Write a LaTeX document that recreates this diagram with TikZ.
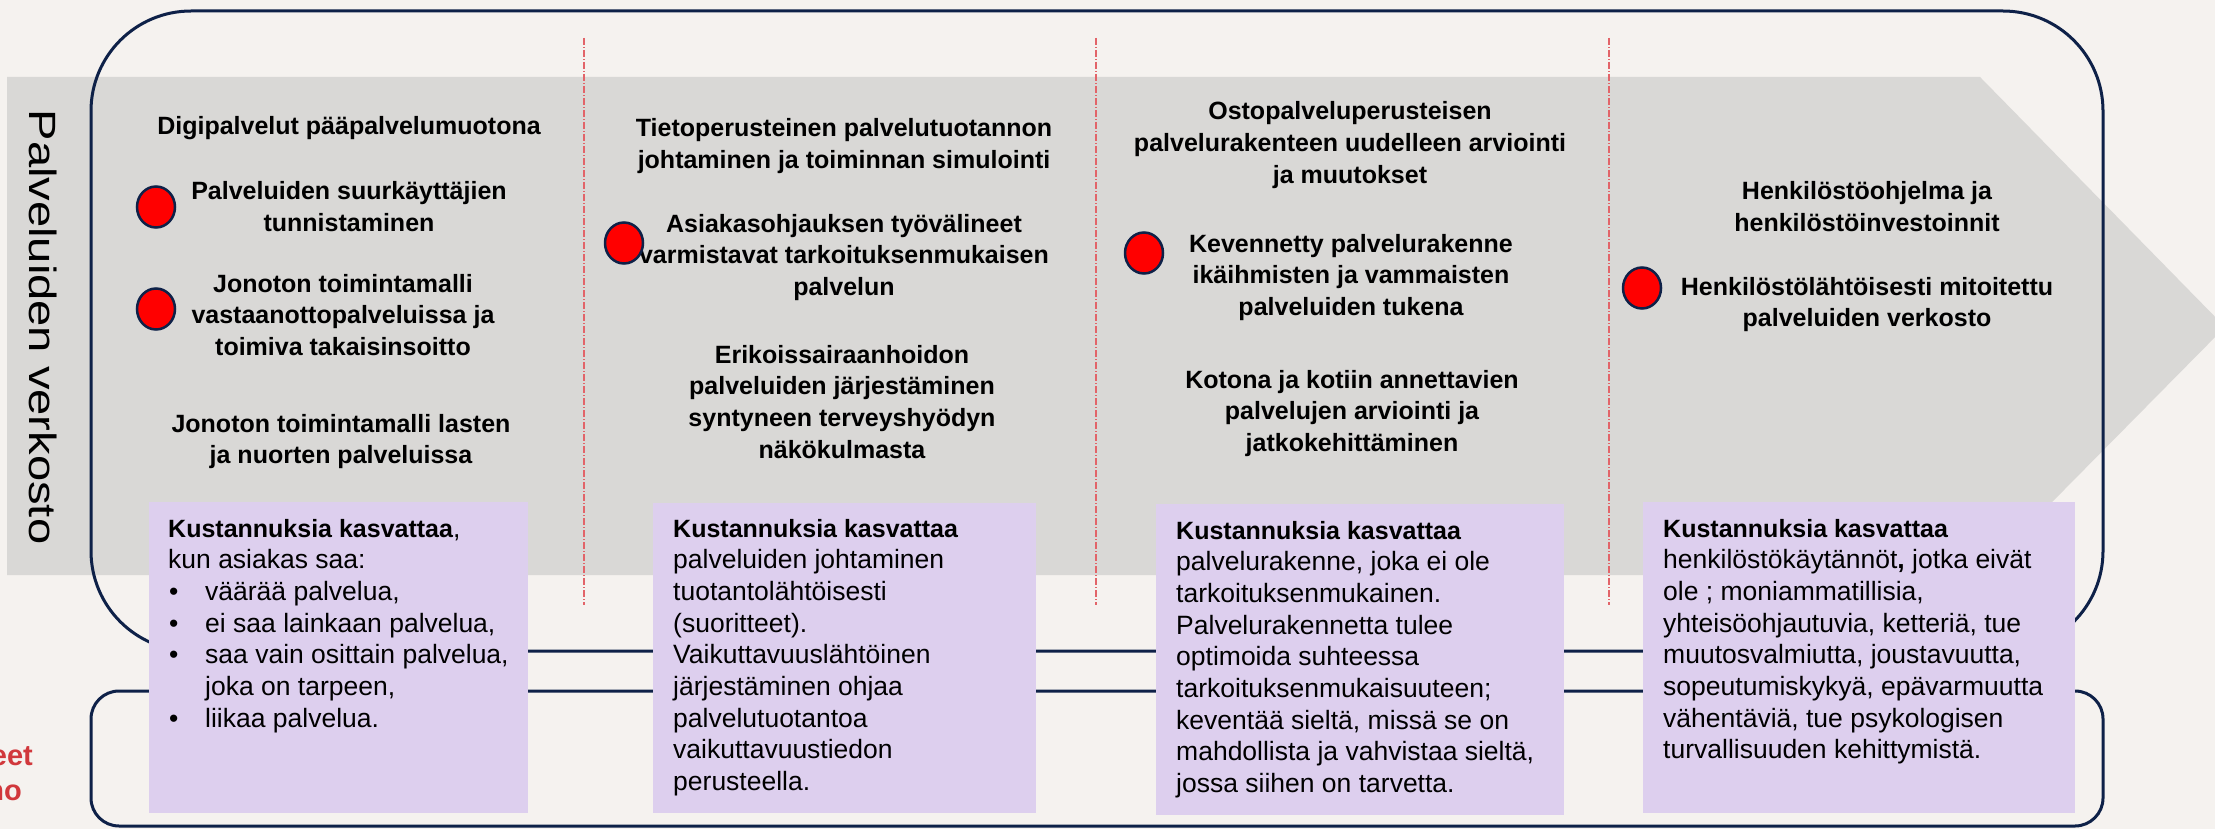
\documentclass[tikz,border=0pt]{standalone}
\usepackage{fontspec}
\setmainfont{Liberation Sans}
\newfontfamily\widefont[FakeStretch=1.24]{Liberation Sans}
\usetikzlibrary{shapes.geometric}
\definecolor{bgc}{RGB}{245,242,239}
\definecolor{bandc}{RGB}{217,216,214}
\definecolor{navyc}{RGB}{14,33,72}
\definecolor{lilac}{RGB}{221,207,238}
\definecolor{divc}{RGB}{226,100,105}
\definecolor{redtxt}{RGB}{209,56,60}
\newcommand{\ctxt}[1]{\parbox[t]{560pt}{\centering #1}}
\newcommand{\ltxt}[1]{\parbox[t]{440pt}{\raggedright\fontsize{26.5}{31.7}\selectfont #1}}
\newcommand{\bhead}[1]{{\bfseries\fontsize{25}{31.7}\selectfont #1}}
\newcommand{\bulitem}{\makebox[37pt][l]{\hspace*{1pt}•}}
\begin{document}
\begin{tikzpicture}[x=1pt,y=-1pt,
  bt/.style={anchor=base, inner sep=0pt, font=\bfseries\fontsize{25}{31.7}\selectfont},
  lt/.style={anchor=base west, inner sep=0pt},
  pbox/.style={anchor=north west, fill=lilac, draw=none, inner sep=0pt},
  dot/.style={ellipse, fill=red, draw=navyc, line width=2.5pt, minimum width=38pt, minimum height=41pt, inner sep=0pt},
  frame/.style={draw=navyc, line width=3pt},
  redlab/.style={anchor=base east, inner sep=0pt, text=redtxt, font=\bfseries\fontsize{29}{35}\selectfont},
  divline/.style={draw=divc, line width=1.2pt, dash pattern=on 7pt off 2pt on 1pt off 2pt}]
\useasboundingbox (0,0) rectangle (2215,829);
\fill[bgc] (0,0) rectangle (2215,829);
% grey arrow band
\fill[bandc] (7,77) -- (1980,77) -- (2225,327) -- (1980,575) -- (7,575) -- cycle;
% frames
\draw[frame, rounded corners=100pt] (91,11) rectangle (2103,651);
\draw[frame, rounded corners=28pt] (91,691) rectangle (2103,826);
% dividers
\coordinate (v1a) at (584,38); \coordinate (v1b) at (584,605);
\coordinate (v2a) at (1096,38); \coordinate (v2b) at (1096,605);
\coordinate (v3a) at (1609,38); \coordinate (v3b) at (1609,605);
\draw[divline] (v1a) -- (v1b);
\draw[divline] (v2a) -- (v2b);
\draw[divline] (v3a) -- (v3b);
% side label
\node[rotate=-90, inner sep=0pt, font=\widefont\fontsize{38}{40}\selectfont] (side) at (43,327) {Palveluiden verkosto};
% red cut text
\node[redlab] (r1) at (33,765) {eet};
\node[redlab] (r2) at (22,800) {no};
% column 1
\node[bt] (c1a) at (349,135) {\ctxt{Digipalvelut pääpalvelumuotona}};
\node[bt] (c1b) at (349,200) {\ctxt{Palveluiden suurkäyttäjien\\tunnistaminen}};
\node[bt] (c1c) at (343,292) {\ctxt{Jonoton toimintamalli\\vastaanottopalveluissa ja\\toimiva takaisinsoitto}};
\node[bt] (c1d) at (341,432) {\ctxt{Jonoton toimintamalli lasten\\ja nuorten palveluissa}};
% column 2
\node[bt] (c2a) at (844,137) {\ctxt{Tietoperusteinen palvelutuotannon\\johtaminen ja toiminnan simulointi}};
\node[bt] (c2b) at (844,232) {\ctxt{Asiakasohjauksen työvälineet\\varmistavat tarkoituksenmukaisen\\palvelun}};
\node[bt] (c2c) at (842,363) {\ctxt{Erikoissairaanhoidon\\palveluiden järjestäminen\\syntyneen terveyshyödyn\\näkökulmasta}};
% column 3
\node[bt] (c3a) at (1350,120) {\ctxt{Ostopalveluperusteisen\\palvelurakenteen uudelleen arviointi\\ja muutokset}};
\node[bt] (c3b) at (1351,252) {\ctxt{Kevennetty palvelurakenne\\ikäihmisten ja vammaisten\\palveluiden tukena}};
\node[bt] (c3c) at (1352,388) {\ctxt{Kotona ja kotiin annettavien\\palvelujen arviointi ja\\jatkokehittäminen}};
% column 4
\node[bt] (c4a) at (1867,200) {\ctxt{Henkilöstöohjelma ja\\henkilöstöinvestoinnit}};
\node[bt] (c4b) at (1867,295) {\ctxt{Henkilöstölähtöisesti mitoitettu\\palveluiden verkosto}};
% dots
\node[dot] (d1) at (156,207) {};
\node[dot] (d2) at (156,309) {};
\node[dot] (d3) at (624,243) {};
\node[dot] (d4) at (1144,253) {};
\node[dot] (d5) at (1642,288) {};
% purple boxes
\node[pbox, minimum width=379pt, minimum height=311pt] (k1) at (149,502) {};
\node[pbox, minimum width=383pt, minimum height=310pt] (k2) at (653,503) {};
\node[pbox, minimum width=408pt, minimum height=311pt] (k3) at (1156,504) {};
\node[pbox, minimum width=432pt, minimum height=311pt] (k4) at (1643,502) {};
% box texts
\node[lt] (t1) at (168,537) {\ltxt{\bhead{Kustannuksia kasvattaa},\\kun asiakas saa:\\\bulitem väärää palvelua,\\\bulitem ei saa lainkaan palvelua,\\\bulitem saa vain osittain palvelua,\\\hspace*{37pt}joka on tarpeen,\\\bulitem liikaa palvelua.}};
\node[lt] (t2) at (673,537) {\ltxt{\bhead{Kustannuksia kasvattaa}\\palveluiden johtaminen\\tuotantolähtöisesti\\(suoritteet).\\Vaikuttavuuslähtöinen\\järjestäminen ohjaa\\palvelutuotantoa\\vaikuttavuustiedon\\perusteella.}};
\node[lt] (t3) at (1176,539) {\ltxt{\bhead{Kustannuksia kasvattaa}\\palvelurakenne, joka ei ole\\tarkoituksenmukainen.\\Palvelurakennetta tulee\\optimoida suhteessa\\tarkoituksenmukaisuuteen;\\keventää sieltä, missä se on\\mahdollista ja vahvistaa sieltä,\\jossa siihen on tarvetta.}};
\node[lt] (t4) at (1663,537) {\ltxt{\bhead{Kustannuksia kasvattaa}\\henkilöstökäytännöt{\bfseries,} jotka eivät\\ole ; moniammatillisia,\\yhteisöohjautuvia, ketteriä, tue\\muutosvalmiutta, joustavuutta,\\sopeutumiskykyä, epävarmuutta\\vähentäviä, tue psykologisen\\turvallisuuden kehittymistä.}};
\end{tikzpicture}
\end{document}
